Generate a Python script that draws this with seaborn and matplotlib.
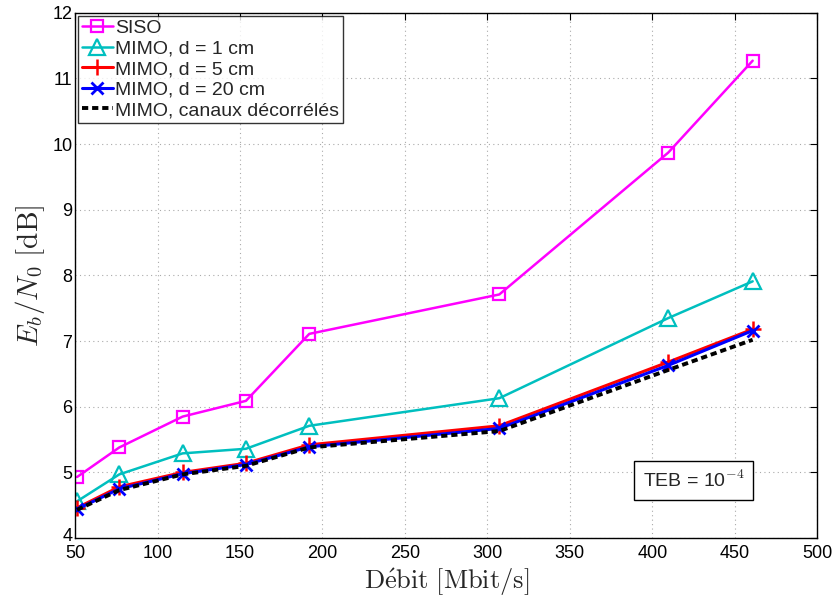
import numpy as np
import pandas as pd
import seaborn as sns
import matplotlib.pyplot as plt
import matplotlib.transforms as mtransforms

# === Data ===
debit = [51.2, 76.8, 115.2, 153.6, 192.0, 307.2, 409.6, 460.8]
siso = [4.93, 5.38, 5.85, 6.09, 7.11, 7.71, 9.87, 11.27]
mimo_1cm = [4.56, 4.97, 5.29, 5.36, 5.71, 6.13, 7.35, 7.91]
mimo_5cm = [4.46, 4.78, 5.00, 5.14, 5.42, 5.71, 6.68, 7.18]
mimo_20cm = [4.44, 4.75, 4.98, 5.12, 5.39, 5.67, 6.63, 7.16]
mimo_decor = [4.43, 4.73, 4.97, 5.10, 5.38, 5.63, 6.56, 7.02]

labels = ["SISO", "MIMO, d = 1 cm", "MIMO, d = 5 cm", "MIMO, d = 20 cm",
          "MIMO, canaux décorrélés"]
x_ticks = list(range(50, 501, 50))
y_ticks = list(range(4, 13))

sns.set_theme(style="white")
plt.rcParams["font.family"] = ["Liberation Sans", "DejaVu Sans"]
plt.rcParams["mathtext.fontset"] = "cm"

fig, ax = plt.subplots(figsize=(8.34, 6.08), dpi=100)
fig.subplots_adjust(left=0.09, right=0.98, top=0.979, bottom=0.115)

# === Series ===
styles = [
    (siso, dict(color="#ff00ff", marker="s", markersize=9, markerfacecolor="none",
                markeredgecolor="#ff00ff", markeredgewidth=1.6, linewidth=1.8)),
    (mimo_1cm, dict(color="#00bfbf", marker="^", markersize=12, markerfacecolor="none",
                    markeredgecolor="#00bfbf", markeredgewidth=1.6, linewidth=1.8)),
    (mimo_5cm, dict(color="#ff0000", marker="+", markersize=12,
                    markeredgecolor="#ff0000", markeredgewidth=1.8, linewidth=2.2)),
    (mimo_20cm, dict(color="#0000ff", marker="x", markersize=8,
                     markeredgecolor="#0000ff", markeredgewidth=2.0, linewidth=2.2)),
    (mimo_decor, dict(color="black", linestyle=(0, (1.6, 1.0)), linewidth=2.8)),
]
for (vals, kw), lab in zip(styles, labels):
    sns.lineplot(x=debit, y=vals, ax=ax, label=lab, **kw)

# === Axes ===
ax.set_xlim(50, 500)
ax.set_ylim(4, 12)
ax.set_xticks(x_ticks)
ax.set_yticks(y_ticks)
ax.tick_params(direction="in", top=True, right=True, length=5, width=0.8,
               labelsize=13, colors="black", pad=2)
ax.tick_params(axis="x", pad=5)
ax.grid(True, linestyle=(0, (1, 3)), color="#aaaaaa", linewidth=0.8)
for s in ax.spines.values():
    s.set_color("black")
    s.set_linewidth(1.0)

# nudge the lowest y label up a touch so it does not sit on "50"
lab4 = ax.get_yticklabels()[0]
lab4.set_transform(lab4.get_transform() +
                   mtransforms.ScaledTranslation(0, 4 / 100, fig.dpi_scale_trans))

ax.set_xlabel(r"$\mathrm{D\acute{e}bit\ [Mbit/s]}$", fontsize=19, labelpad=3)
ax.set_ylabel(r"$E_b/N_0\ \mathrm{[dB]}$", fontsize=21, labelpad=4)

leg = ax.legend(loc="upper left", fontsize=14, frameon=True, fancybox=False,
                numpoints=1, borderpad=0.2, labelspacing=0.15, handlelength=1.6,
                handletextpad=0.1, borderaxespad=0.15)
leg.get_frame().set_edgecolor("black")
leg.get_frame().set_linewidth(1.0)

ax.text(425, 4.88, r"TEB = 10$^{\mathsf{-4}}$", fontsize=14, ha="center", va="center",
        bbox=dict(boxstyle="square,pad=0.45", facecolor="white", edgecolor="black",
                  linewidth=1.0))

fig.savefig("out.png", dpi=100)
